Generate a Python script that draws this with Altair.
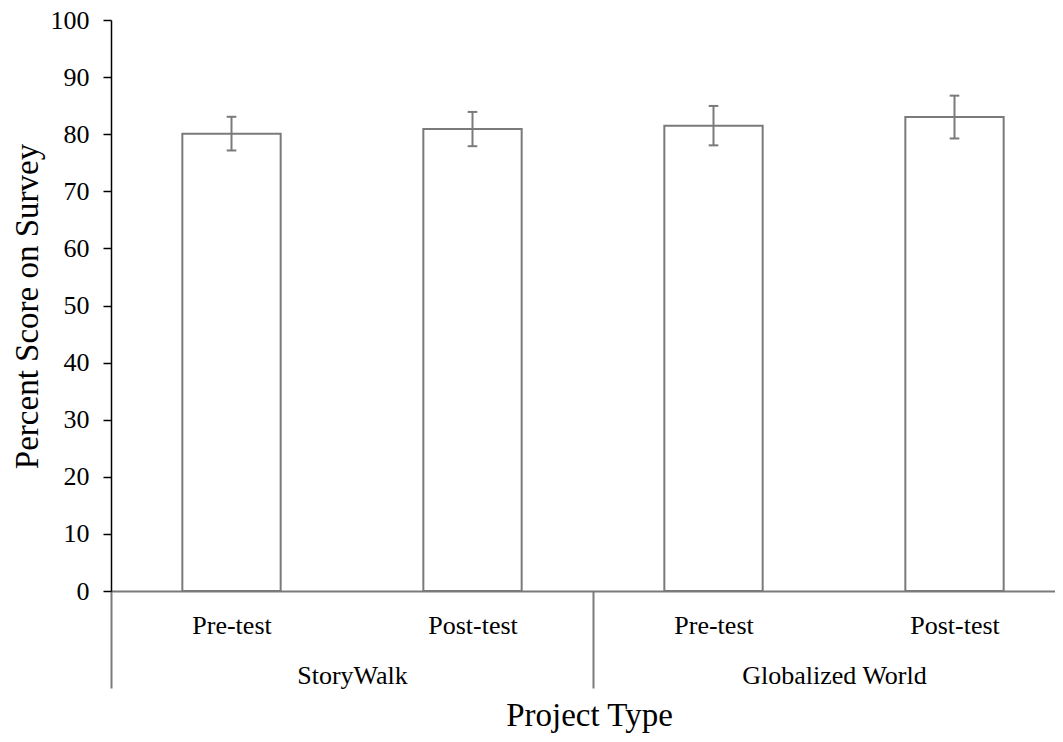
import json
import altair as alt
import pandas as pd

# ---- data ----
groups = ["StoryWalk", "StoryWalk", "Globalized World", "Globalized World"]
tests = ["Pre-test", "Post-test", "Pre-test", "Post-test"]
means = [80.1, 80.9, 81.5, 83.0]
errs = [2.95, 3.0, 3.45, 3.75]
y_ticks = list(range(0, 101, 10))
group_names = ["StoryWalk", "Globalized World"]

df = pd.DataFrame({"group": groups, "test": tests, "mean": means, "err": errs})
df["pos"] = [i + 0.5 for i in range(len(df))]

GRAY = "#7a7a7a"
FONT = "Liberation Serif"

x_scale = alt.Scale(domain=[0, 3.917], nice=False, zero=False, padding=0)
y_scale = alt.Scale(domain=[0, 100], nice=False, zero=True, padding=0)

test_expr = "%s[floor(datum.value)]" % json.dumps(tests)
group_expr = "datum.value %% 2 == 1 ? %s[floor(datum.value / 2)] : ''" % json.dumps(group_names)

axis_tests = alt.Axis(
    orient="bottom", values=[i + 0.5 for i in range(len(tests))], labelExpr=test_expr,
    ticks=False, tickSize=0, domain=True, domainColor=GRAY, domainWidth=2,
    labelFontSize=26, labelPadding=42, labelBaseline="alphabetic", labelLimit=400,
    labelOverlap=False, grid=False, title=None, offset=0,
)
axis_groups = alt.Axis(
    orient="bottom", values=[0, 1, 2, 3, 4], labelExpr=group_expr,
    ticks=True, tickSize=97, tickColor=GRAY, tickWidth=2,
    tickOpacity={"condition": {"test": "datum.value % 2 == 1", "value": 0}, "value": 1},
    domain=False, labelFontSize=26, labelPadding=-5, labelBaseline="alphabetic", labelLimit=400,
    labelOverlap=False, grid=False, offset=0,
    title="Project Type", titleFontSize=33, titleX=478, titleY=134,
    titleBaseline="alphabetic", titleAlign="center",
)
axis_y = alt.Axis(
    orient="left", values=y_ticks, tickSize=8, tickColor="black", tickWidth=1.5,
    domainColor="black", domainWidth=1.5, labelFontSize=26, labelPadding=14,
    labelColor="black", grid=False, title="Percent Score on Survey", titleFontSize=33,
    titleX=-74, titleY=286, titleAngle=270, titleBaseline="alphabetic", titleAlign="center",
)

base = alt.Chart(df).transform_calculate(
    x0="datum.pos - 0.204", x1="datum.pos + 0.204",
    lo="datum.mean - datum.err", hi="datum.mean + datum.err",
    cl="datum.pos - 0.02", cr="datum.pos + 0.02",
)

bars = base.mark_bar(fill="white", stroke=GRAY, strokeWidth=2, orient="vertical").encode(
    x=alt.X("x0:Q", scale=x_scale, axis=axis_tests),
    x2="x1:Q",
    y=alt.Y("mean:Q", scale=y_scale, axis=axis_y),
    y2=alt.datum(0),
)

sep = base.mark_point(opacity=0).encode(
    x=alt.X("pos:Q", scale=x_scale, axis=axis_groups),
    y=alt.Y("mean:Q", scale=y_scale, axis=axis_y),
)

stems = base.mark_rule(color=GRAY, strokeWidth=2).encode(
    x=alt.X("pos:Q", scale=x_scale, axis=None),
    y=alt.Y("lo:Q", scale=y_scale, axis=axis_y),
    y2="hi:Q",
)
cap_hi = base.mark_rule(color=GRAY, strokeWidth=2).encode(
    x=alt.X("cl:Q", scale=x_scale, axis=None), x2="cr:Q",
    y=alt.Y("hi:Q", scale=y_scale, axis=axis_y),
)
cap_lo = base.mark_rule(color=GRAY, strokeWidth=2).encode(
    x=alt.X("cl:Q", scale=x_scale, axis=None), x2="cr:Q",
    y=alt.Y("lo:Q", scale=y_scale, axis=axis_y),
)

chart = (
    alt.layer(bars, sep, stems, cap_hi, cap_lo)
    .resolve_axis(x="independent", y="shared")
    .properties(
        width=944, height=571,
        autosize=alt.AutoSizeParams(type="none"),
        padding={"left": 103, "top": 12, "right": 0, "bottom": 143},
    )
    .configure_view(stroke=None)
    .configure_axis(labelFont=FONT, titleFont=FONT, titleFontWeight="normal",
                    labelColor="black", titleColor="black")
)

chart.save("out.html", embed_options={"renderer": "svg", "actions": False})
